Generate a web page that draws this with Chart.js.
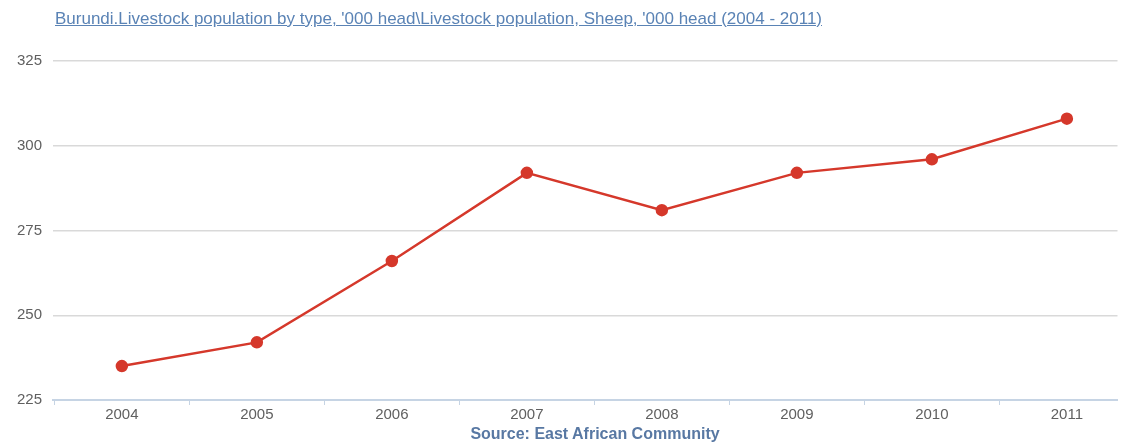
<!DOCTYPE html>
<html>
<head>
<meta charset="utf-8">
<script src="https://cdn.jsdelivr.net/npm/chart.js@4"></script>
<style>
  body { margin: 0; background: #fff; }
  #wrap { position: relative; width: 1125px; height: 444px; }
  #title {
    position: absolute; left: 55px; top: 9px;
    font: 17px "Liberation Sans", Arial, sans-serif;
    color: #5a83b5; text-decoration: underline; white-space: nowrap;
  }
  #source {
    position: absolute; left: 0; width: 1190px; top: 425px; text-align: center;
    font: bold 16px "Liberation Sans", Arial, sans-serif;
    color: #5878a3; white-space: nowrap;
  }
</style>
</head>
<body>
<div id="wrap">
  <canvas id="chart" width="1125" height="444"></canvas>
  <div id="title">Burundi.Livestock population by type, '000 head\Livestock population, Sheep, '000 head (2004 - 2011)</div>
  <div id="source">Source: East African Community</div>
</div>
<script>
// years on the x axis and sheep numbers ('000 head)
const years = [2004, 2005, 2006, 2007, 2008, 2009, 2010, 2011];
const sheep = [235, 242, 266, 292, 281, 292, 296, 308];
const yTicks = [225, 250, 275, 300, 325];

const red = '#d5382b';

const data = {
    datasets: [{
        label: 'Sheep',
        data: years.map((y, i) => ({ x: y, y: sheep[i] })),
        borderColor: red,
        backgroundColor: red,
        borderWidth: 2.5,
        pointRadius: 5,
        pointHoverRadius: 5,
        tension: 0
    }]
};

const config = {
    type: 'line',
    data: data,
    options: {
        responsive: false,
        animation: false,
        layout: { padding: { top: 61, right: 0, left: 0, bottom: 0 } },
        plugins: {
            legend: { display: false },
            tooltip: { enabled: false }
        },
        scales: {
            x: {
                type: 'linear',
                min: 2003.49,
                max: 2011.375,
                afterBuildTicks: (axis) => {
                    // labels on the years, tick marks half way between them
                    const t = [{ value: axis.min }, { value: axis.max }];
                    years.forEach(y => { t.push({ value: y }); t.push({ value: y - 0.5 }); });
                    axis.ticks = t.filter(k => k.value >= axis.min && k.value <= axis.max)
                        .sort((a, b) => a.value - b.value);
                },
                afterFit: (axis) => { axis.height = 44; axis.paddingRight = 0; axis.paddingLeft = 0; },
                ticks: {
                    autoSkip: false,
                    maxRotation: 0,
                    padding: 1,
                    color: '#606060',
                    font: { family: 'Liberation Sans', size: 15 },
                    callback: (v) => Number.isInteger(v) ? String(v) : ''
                },
                grid: {
                    drawOnChartArea: false,
                    tickLength: 5,
                    tickColor: (ctx) => (ctx.tick && Math.abs(ctx.tick.value % 1 - 0.5) < 0.001) ? '#c6d4e4' : 'rgba(0,0,0,0)'
                },
                border: { color: '#c6d4e4', width: 2 }
            },
            y: {
                min: 225,
                max: 325,
                afterBuildTicks: (axis) => { axis.ticks = yTicks.map(v => ({ value: v })); },
                afterFit: (axis) => { axis.width = 53; },
                ticks: {
                    padding: 11,
                    color: '#606060',
                    font: { family: 'Liberation Sans', size: 15 }
                },
                grid: {
                    drawTicks: false,
                    color: '#d9d9d9',
                    lineWidth: 1.5
                },
                border: { display: false }
            }
        }
    }
};

var chartElem = new Chart(document.getElementById('chart'), config);
</script>
</body>
</html>
